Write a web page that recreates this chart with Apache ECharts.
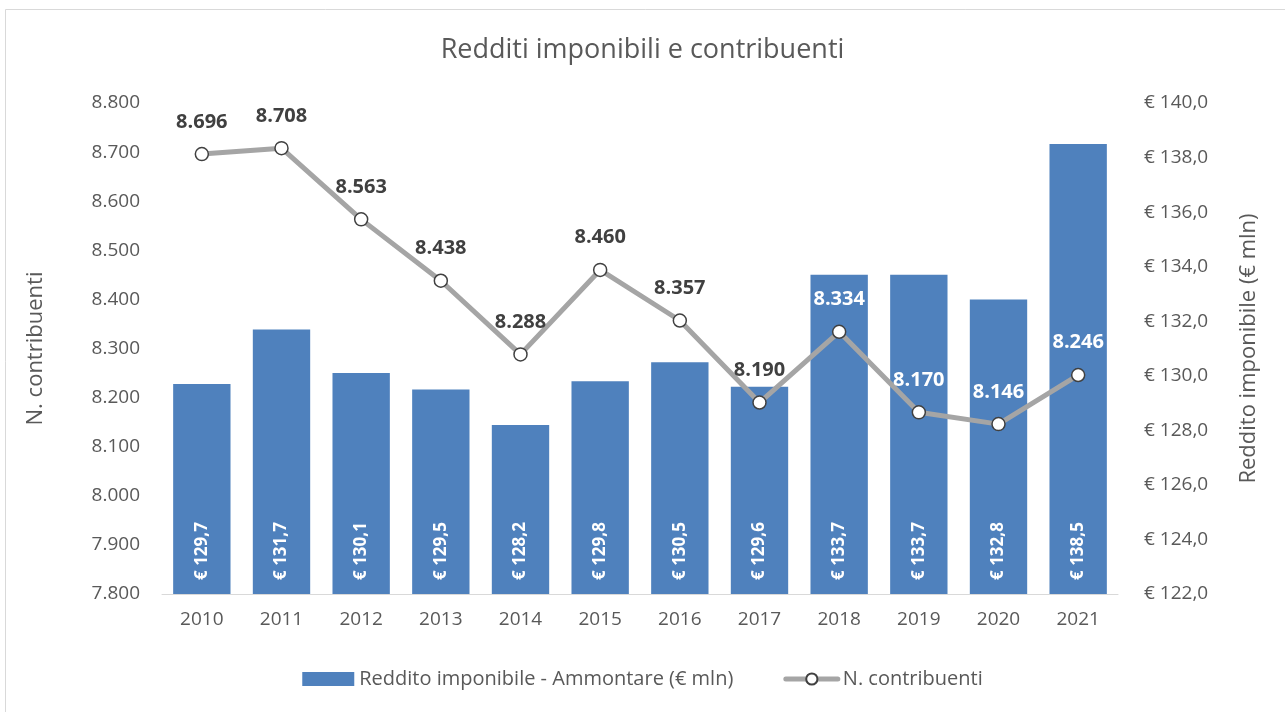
<!DOCTYPE html>
<html>
<head>
<meta charset="utf-8">
<script src="https://cdn.jsdelivr.net/npm/echarts@6/dist/echarts.min.js"></script>
<style>
    html, body { margin: 0; padding: 0; background: #fff; }
    #chart { width: 1285px; height: 712px; }
</style>
</head>
<body>
<div id="chart"></div>
<script>
const years = ['2010', '2011', '2012', '2013', '2014', '2015', '2016', '2017', '2018', '2019', '2020', '2021'];
// Reddito imponibile - Ammontare (€ mln)
const reddito = [129.7, 131.7, 130.1, 129.5, 128.2, 129.8, 130.5, 129.6, 133.7, 133.7, 132.8, 138.5];
// N. contribuenti
const contribuenti = [8696, 8708, 8563, 8438, 8288, 8460, 8357, 8190, 8334, 8170, 8146, 8246];

const font = 'Open Sans';
const grey = '#595959';

function fmtThousands(v) {
    return String(Math.round(v)).replace(/\B(?=(\d{3})+(?!\d))/g, '.');
}
function fmtEuro(v) {
    return '€ ' + v.toFixed(1).replace('.', ',');
}

const chart = echarts.init(document.getElementById('chart'));

// labels sitting over the bars are white
const lineData = contribuenti.map((v, i) => ({
    value: v,
    label: { color: i >= 8 ? '#ffffff' : '#404040' }
}));

const option = {
    backgroundColor: '#fff',
    textStyle: { fontFamily: font },
    title: {
        text: 'Redditi imponibili e contribuenti',
        left: 'center',
        top: 32,
        textStyle: { fontFamily: font, fontSize: 27, fontWeight: 'normal', color: grey }
    },
    graphic: [{
        type: 'rect',
        shape: { x: 5.5, y: 9.5, width: 1290, height: 720 },
        style: { fill: 'none', stroke: '#d9d9d9', lineWidth: 1 },
        silent: true
    }],
    legend: {
        bottom: 18,
        left: 'center',
        itemWidth: 52,
        itemHeight: 14,
        itemGap: 50,
        lineStyle: { width: 5 },
        textStyle: { fontFamily: font, fontSize: 20, color: grey },
        data: [
            { name: 'Reddito imponibile - Ammontare (€ mln)', icon: 'rect' },
            { name: 'N. contribuenti' }
        ]
    },
    grid: { left: 162, right: 167, top: 103, bottom: 118 },
    xAxis: {
        type: 'category',
        data: years,
        axisLine: { lineStyle: { color: '#d9d9d9', width: 1 } },
        axisTick: { show: false },
        axisLabel: { color: grey, fontSize: 19, margin: 16 }
    },
    yAxis: [{
        type: 'value',
        name: 'N. contribuenti',
        nameLocation: 'middle',
        nameGap: 115,
        nameTextStyle: { color: grey, fontSize: 22 },
        min: 7800,
        max: 8800,
        interval: 100,
        splitLine: { show: false },
        axisLine: { show: false },
        axisTick: { show: false },
        axisLabel: { color: grey, fontSize: 19, margin: 22, formatter: fmtThousands }
    }, {
        type: 'value',
        name: 'Reddito imponibile (€ mln)',
        nameLocation: 'middle',
        nameGap: 120,
        nameRotate: 90,
        nameTextStyle: { color: grey, fontSize: 22 },
        min: 122,
        max: 140,
        interval: 2,
        splitLine: { show: false },
        axisLine: { show: false },
        axisTick: { show: false },
        axisLabel: { color: grey, fontSize: 19, margin: 26, formatter: fmtEuro }
    }],
    series: [{
        name: 'Reddito imponibile - Ammontare (€ mln)',
        type: 'bar',
        yAxisIndex: 1,
        data: reddito,
        barCategoryGap: '28%',
        itemStyle: { color: '#4f81bd' },
        label: {
            show: true,
            position: 'insideBottom',
            rotate: 90,
            align: 'left',
            verticalAlign: 'middle',
            distance: 14,
            color: '#fff',
            fontWeight: 'bold',
            fontSize: 17,
            formatter: p => fmtEuro(p.value)
        },
        z: 1
    }, {
        name: 'N. contribuenti',
        type: 'line',
        yAxisIndex: 0,
        data: lineData,
        symbol: 'circle',
        symbolSize: 13,
        lineStyle: { color: '#a5a5a5', width: 5, cap: 'round', join: 'round' },
        itemStyle: { color: '#ffffff', borderColor: '#404040', borderWidth: 1.5 },
        label: {
            show: true,
            position: 'top',
            distance: 15,
            fontWeight: 'bold',
            fontSize: 20,
            formatter: p => fmtThousands(p.value)
        },
        z: 3
    }]
};

// legend colours for the line entry
option.series[1].color = '#a5a5a5';
chart.setOption(option);
</script>
</body>
</html>
